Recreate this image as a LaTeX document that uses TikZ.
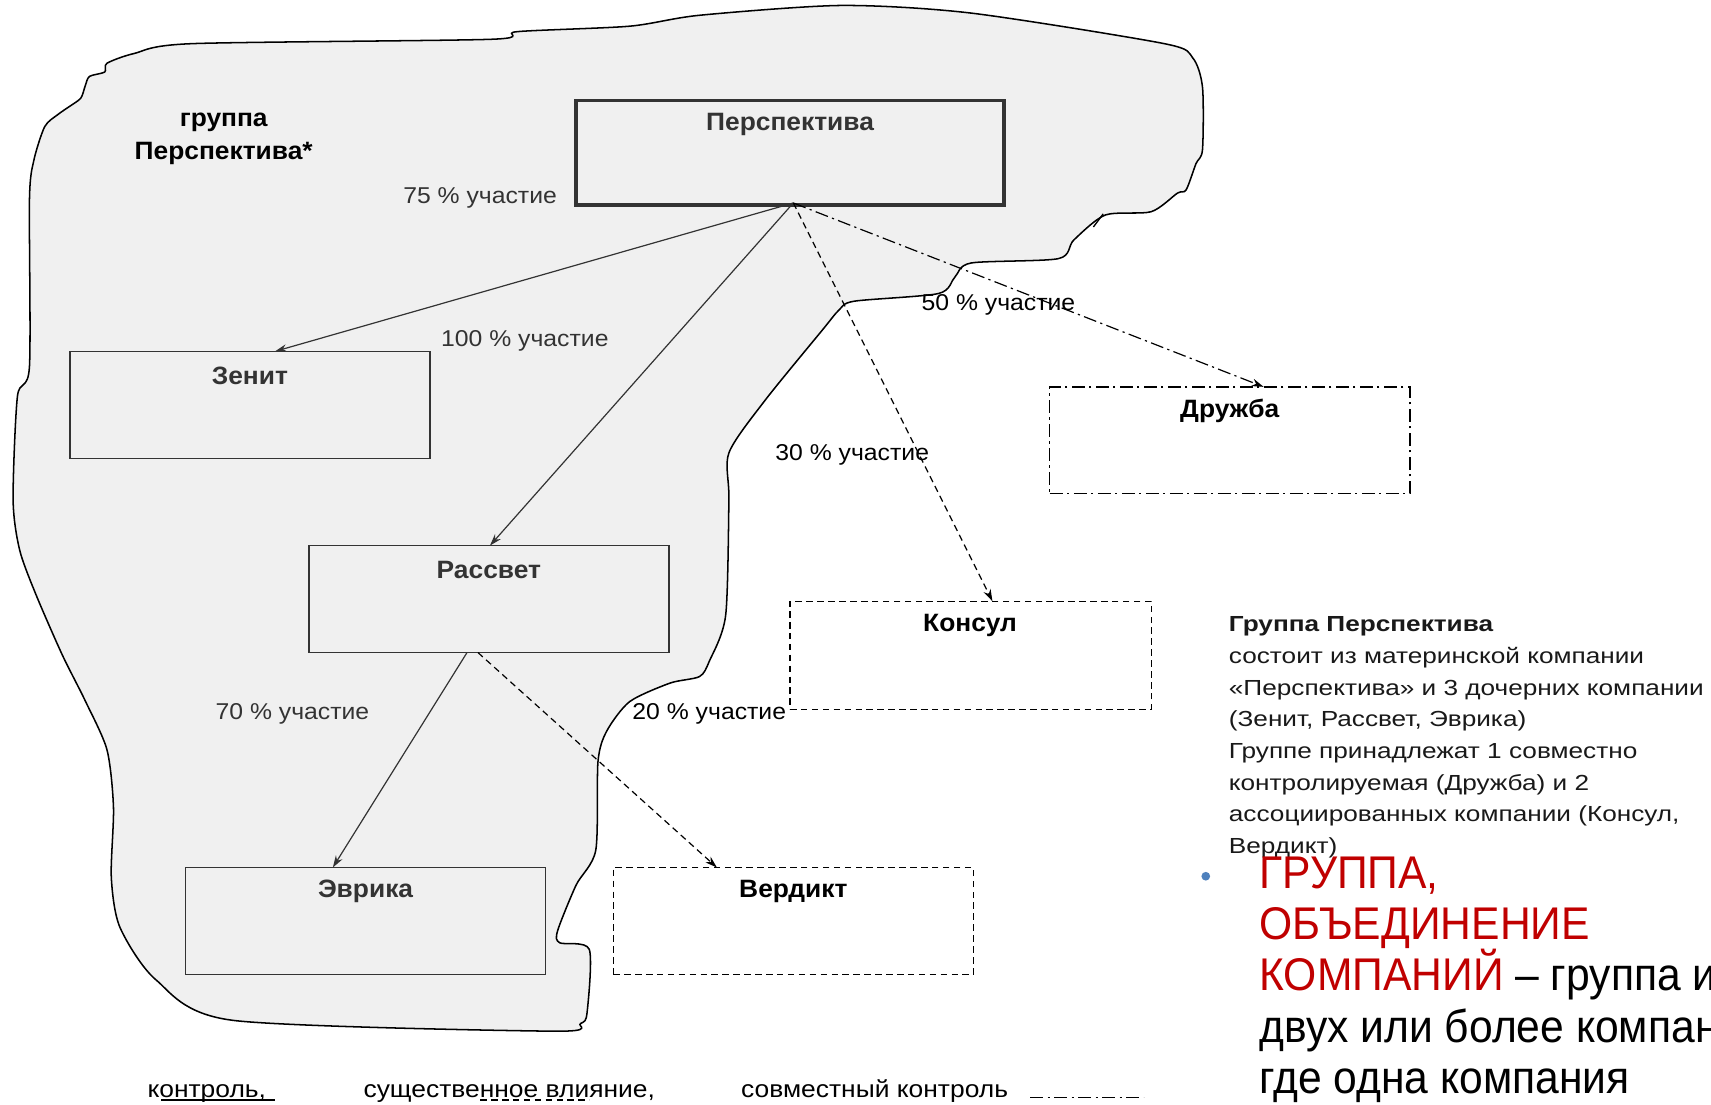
\documentclass[tikz,border=0pt]{standalone}
\usepackage{fontspec}
\setmainfont{Liberation Sans}
\newfontfamily\fLbl[FakeStretch=1.05]{Liberation Sans}
\newfontfamily\fPct[FakeStretch=1.08]{Liberation Sans}
\newfontfamily\fRr[FakeStretch=1.2]{Liberation Sans}
\newfontfamily\fBig[FakeStretch=0.93]{Liberation Sans}
\newfontfamily\fLeg[FakeStretch=1.1]{Liberation Sans}
\usetikzlibrary{arrows.meta}
\definecolor{blobfill}{HTML}{F0F0F0}
\definecolor{boxline}{HTML}{333333}
\definecolor{redtxt}{RGB}{192,0,0}
\definecolor{bulletblue}{RGB}{79,129,189}
\begin{document}
\begin{tikzpicture}[x=1pt,y=-1pt,
  cbox/.style={draw=boxline, line width=1.4pt, inner sep=0pt, outer sep=0pt, minimum width=330pt, minimum height=98pt},
  dbox/.style={draw=black, line width=1.3pt, dash pattern=on 6pt off 4pt, inner sep=0pt, outer sep=0pt, minimum width=330pt, minimum height=98pt},
  ddbox/.style={draw=black, line width=1.3pt, dash pattern=on 12pt off 4pt on 2pt off 4pt, inner sep=0pt, outer sep=0pt, minimum width=330pt, minimum height=98pt},
  lbl/.style={font=\fLbl\fontsize{23pt}{27pt}\selectfont\bfseries, text=boxline, inner sep=0pt},
  pct/.style={font=\fPct\fontsize{21pt}{25pt}\selectfont, inner sep=0pt},
  rtxt/.style={font=\fRr\fontsize{20pt}{24pt}\selectfont, text=black!90, inner sep=0pt, anchor=base west},
  big/.style={font=\fBig\fontsize{42pt}{46pt}\selectfont, inner sep=0pt, anchor=base west},
  leg/.style={font=\fLeg\fontsize{22pt}{26pt}\selectfont, inner sep=0pt, anchor=base west},
  solidarr/.style={draw=boxline, line width=1.1pt, -{Stealth[length=11pt,width=7pt]}},
  dasharr/.style={draw=black, line width=1.1pt, dash pattern=on 6pt off 4pt, -{Stealth[length=11pt,width=7pt]}},
  ddarr/.style={draw=black, line width=1.1pt, dash pattern=on 12pt off 4pt on 2pt off 4pt, -{Stealth[length=11pt,width=7pt]}}
]
\useasboundingbox (0,0) rectangle (1568,1012);
\fill[white] (0,0) rectangle (1568,1012);

% group blob
\draw[line width=1.4pt, fill=blobfill] plot[smooth cycle, tension=0.45] coordinates {
 (98,58) (123,49) (176,40) (450,36) (474,29) (577,24) (641,14) (771,5) (890,12)
 (1067,40) (1093,53) (1102,80) (1102,137) (1096,150) (1087,174) (1079,177)
 (1055,194) (1013,197) (984,220) (970,237) (890,241) (875,254) (860,269)
 (783,276) (769,284) (754,302) (701,367) (668,415) (668,458) (665,564)
 (650,606) (641,620) (614,626) (577,643) (556,670) (548,698) (546,779)
 (528,811) (511,853) (513,864) (540,870) (538,928) (532,938) (507,945)
 (213,935) (143,898) (110,850) (102,804) (104,740) (98,687) (78,642)
 (57,600) (33,545) (18,504) (12,458) (16,363) (27,336) (27,183) (31,147)
 (41,116) (53,105) (63,98) (74,90) (78,79) (82,70) (96,66)};
\draw[line width=1.2pt] (1002,208) -- (1011,196);

% boxes
\node[cbox, line width=3.2pt, minimum width=392pt, minimum height=96pt] (persp) at (724,140) {};
\node[cbox] (zenit) at (229,371) {};
\node[cbox] (rassvet) at (448,549) {};
\node[cbox] (evrika) at (335,844) {};
\node[dbox] (verdikt) at (727,844) {};
\node[dbox, minimum width=331pt, minimum height=99pt] (konsul) at (889.5,600.5) {};
\node[ddbox] (druzhba) at (1127,403.5) {};

% box labels
\node[lbl] (perspT) at (724,114) {Перспектива};
\node[lbl] (zenitT) at (229,344) {Зенит};
\node[lbl] (rassvetT) at (448,522) {Рассвет};
\node[lbl] (evrikaT) at (335,817) {Эврика};
\node[lbl, text=black] (verdiktT) at (727,817) {Вердикт};
\node[lbl, text=black] (konsulT) at (889,573) {Консул};
\node[lbl, text=black] (druzhbaT) at (1127,377) {Дружба};

\node[lbl, text=black] (grp1) at (205,112) {группа};
\node[lbl, text=black] (grp2) at (205,141) {Перспектива*};

% connectors
\coordinate (src) at ([xshift=3pt,yshift=2pt]persp.south);
\draw[solidarr] (src) -- ([xshift=23pt]zenit.north);
\draw[solidarr] (src) -- ([xshift=1pt]rassvet.north);
\draw[dasharr] (src) -- ([xshift=20pt]konsul.north);
\draw[ddarr] (src) -- ([xshift=31pt]druzhba.north);
\draw[solidarr] ([xshift=-20pt]rassvet.south) -- ([xshift=-30pt]evrika.north);
\draw[dasharr] ([xshift=-10pt]rassvet.south) -- ([xshift=-70pt]verdikt.north);

% percentage labels
\node[pct, text=boxline] (p75) at (440,181) {75 \% участие};
\node[pct, text=boxline] (p100) at (481,312) {100 \% участие};
\node[pct] (p50) at (915,279) {50 \% участие};
\node[pct] (p30) at (781,417) {30 \% участие};
\node[pct, text=boxline] (p70) at (268,654) {70 \% участие};
\node[pct] (p20) at (650,654) {20 \% участие};

% right description
\node[rtxt, font=\fRr\fontsize{20pt}{24pt}\selectfont\bfseries] (d1) at (1126,579) {Группа Перспектива};
\node[rtxt] (d2) at (1126,608) {состоит из материнской компании};
\node[rtxt] (d3) at (1126,637) {«Перспектива» и 3 дочерних компании};
\node[rtxt] (d4) at (1126,666) {(Зенит, Рассвет, Эврика)};
\node[rtxt] (d5) at (1126,695) {Группе принадлежат 1 совместно};
\node[rtxt] (d6) at (1126,724) {контролируемая (Дружба) и 2};
\node[rtxt] (d7) at (1126,753) {ассоциированных компании (Консул,};
\node[rtxt] (d8) at (1126,782) {Вердикт)};

% big definition
\fill[bulletblue] (1105,803) circle (4pt);
\node[big, text=redtxt] (b1) at (1154,814) {ГРУППА,};
\node[big, text=redtxt] (b2) at (1154,861) {ОБЪЕДИНЕНИЕ};
\node[big] (b3) at (1154,908) {\textcolor{redtxt}{КОМПАНИЙ} – группа из};
\node[big] (b4) at (1154,955) {двух или более компаний,};
\node[big] (b5) at (1154,1002) {где одна компания};

% legend
\node[leg] (l1) at (135,1006) {контроль,};
\node[leg] (l2) at (333,1006) {существенное влияние,};
\node[leg] (l3) at (679,1006) {совместный контроль};
\draw[line width=1.3pt] (148,1008) -- (252,1008);
\draw[line width=1.2pt, dash pattern=on 6pt off 4pt] (440,1008) -- (540,1008);
\draw[line width=1.2pt, dash pattern=on 12pt off 4pt on 2pt off 4pt] (944,1006) -- (1048,1006);
\end{tikzpicture}
\end{document}
